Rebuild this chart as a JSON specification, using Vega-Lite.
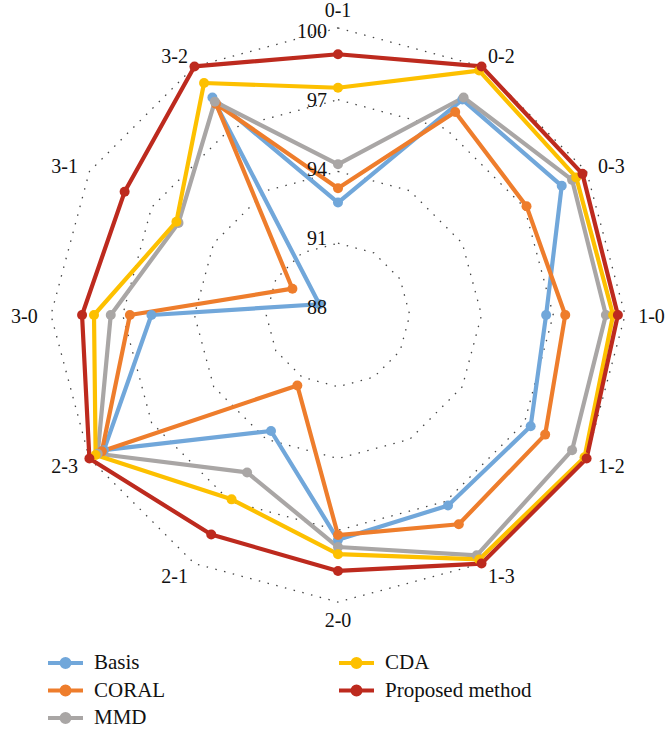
{
  "$schema": "https://vega.github.io/schema/vega-lite/v6.json",
  "width": 666,
  "height": 729,
  "autosize": "none",
  "padding": 0,
  "config": {"view": {"stroke": null}, "font": "Liberation Serif"},
  "datasets": {
    "scores": [
      {"method": "Basis", "pair": "0-1", "acc": 92.7},
      {"method": "Basis", "pair": "0-2", "acc": 98.4},
      {"method": "Basis", "pair": "0-3", "acc": 98.8},
      {"method": "Basis", "pair": "1-0", "acc": 96.7},
      {"method": "Basis", "pair": "1-2", "acc": 97.3},
      {"method": "Basis", "pair": "1-3", "acc": 97.2},
      {"method": "Basis", "pair": "2-0", "acc": 97.4},
      {"method": "Basis", "pair": "2-1", "acc": 93.6},
      {"method": "Basis", "pair": "2-3", "acc": 99.3},
      {"method": "Basis", "pair": "3-0", "acc": 95.8},
      {"method": "Basis", "pair": "3-1", "acc": 88.9},
      {"method": "Basis", "pair": "3-2", "acc": 98.5},
      {"method": "CORAL", "pair": "0-1", "acc": 93.3},
      {"method": "CORAL", "pair": "0-2", "acc": 97.8},
      {"method": "CORAL", "pair": "0-3", "acc": 97.1},
      {"method": "CORAL", "pair": "1-0", "acc": 97.5},
      {"method": "CORAL", "pair": "1-2", "acc": 98.0},
      {"method": "CORAL", "pair": "1-3", "acc": 98.1},
      {"method": "CORAL", "pair": "2-0", "acc": 97.2},
      {"method": "CORAL", "pair": "2-1", "acc": 91.4},
      {"method": "CORAL", "pair": "2-3", "acc": 99.4},
      {"method": "CORAL", "pair": "3-0", "acc": 96.7},
      {"method": "CORAL", "pair": "3-1", "acc": 90.2},
      {"method": "CORAL", "pair": "3-2", "acc": 98.2},
      {"method": "MMD", "pair": "0-1", "acc": 94.3},
      {"method": "MMD", "pair": "0-2", "acc": 98.5},
      {"method": "MMD", "pair": "0-3", "acc": 99.3},
      {"method": "MMD", "pair": "1-0", "acc": 99.2},
      {"method": "MMD", "pair": "1-2", "acc": 99.3},
      {"method": "MMD", "pair": "1-3", "acc": 99.6},
      {"method": "MMD", "pair": "2-0", "acc": 97.7},
      {"method": "MMD", "pair": "2-1", "acc": 95.6},
      {"method": "MMD", "pair": "2-3", "acc": 99.6},
      {"method": "MMD", "pair": "3-0", "acc": 97.5},
      {"method": "MMD", "pair": "3-1", "acc": 95.7},
      {"method": "MMD", "pair": "3-2", "acc": 98.3},
      {"method": "CDA", "pair": "0-1", "acc": 97.5},
      {"method": "CDA", "pair": "0-2", "acc": 99.8},
      {"method": "CDA", "pair": "0-3", "acc": 99.5},
      {"method": "CDA", "pair": "1-0", "acc": 99.5},
      {"method": "CDA", "pair": "1-2", "acc": 99.9},
      {"method": "CDA", "pair": "1-3", "acc": 99.8},
      {"method": "CDA", "pair": "2-0", "acc": 98.0},
      {"method": "CDA", "pair": "2-1", "acc": 96.9},
      {"method": "CDA", "pair": "2-3", "acc": 99.7},
      {"method": "CDA", "pair": "3-0", "acc": 98.2},
      {"method": "CDA", "pair": "3-1", "acc": 95.8},
      {"method": "CDA", "pair": "3-2", "acc": 99.2},
      {"method": "Proposed method", "pair": "0-1", "acc": 98.9},
      {"method": "Proposed method", "pair": "0-2", "acc": 100.0},
      {"method": "Proposed method", "pair": "0-3", "acc": 99.8},
      {"method": "Proposed method", "pair": "1-0", "acc": 99.7},
      {"method": "Proposed method", "pair": "1-2", "acc": 100.0},
      {"method": "Proposed method", "pair": "1-3", "acc": 100.0},
      {"method": "Proposed method", "pair": "2-0", "acc": 98.7},
      {"method": "Proposed method", "pair": "2-1", "acc": 98.6},
      {"method": "Proposed method", "pair": "2-3", "acc": 100.0},
      {"method": "Proposed method", "pair": "3-0", "acc": 98.7},
      {"method": "Proposed method", "pair": "3-1", "acc": 98.3},
      {"method": "Proposed method", "pair": "3-2", "acc": 100.0}
    ],
    "pairs": [
      {"pair": "0-1"}, {"pair": "0-2"}, {"pair": "0-3"}, {"pair": "1-0"},
      {"pair": "1-2"}, {"pair": "1-3"}, {"pair": "2-0"}, {"pair": "2-1"},
      {"pair": "2-3"}, {"pair": "3-0"}, {"pair": "3-1"}, {"pair": "3-2"}
    ],
    "ticks": [{"level": 88}, {"level": 91}, {"level": 94}, {"level": 97}, {"level": 100}]
  },
  "layer": [
    {
      "data": {"name": "pairs"},
      "transform": [
        {"calculate": "[91, 94, 97, 100]", "as": "level"},
        {"flatten": ["level"]},
        {"calculate": "indexof(['0-1','0-2','0-3','1-0','1-2','1-3','2-0','2-1','2-3','3-0','3-1','3-2'], datum.pair)", "as": "idx"},
        {"calculate": "(datum.level - 88) * sin(datum.idx * PI / 6)", "as": "x"},
        {"calculate": "(datum.level - 88) * cos(datum.idx * PI / 6)", "as": "y"}
      ],
      "mark": {"type": "line", "interpolate": "linear-closed", "stroke": "#444", "strokeWidth": 1.3, "strokeDash": [1.5, 7.5]},
      "encoding": {
        "x": {"field": "x", "type": "quantitative", "axis": null, "scale": {"domain": [-14.13, 13.712], "nice": false, "zero": false}},
        "y": {"field": "y", "type": "quantitative", "axis": null, "scale": {"domain": [-17.308, 13.169], "nice": false, "zero": false}},
        "detail": {"field": "level"},
        "order": {"field": "idx"}
      }
    },
    {
      "data": {"name": "scores"},
      "transform": [
        {"calculate": "indexof(['0-1','0-2','0-3','1-0','1-2','1-3','2-0','2-1','2-3','3-0','3-1','3-2'], datum.pair)", "as": "idx"},
        {"calculate": "(datum.acc - 88) * sin(datum.idx * PI / 6)", "as": "x"},
        {"calculate": "(datum.acc - 88) * cos(datum.idx * PI / 6)", "as": "y"}
      ],
      "layer": [
        {
          "mark": {"type": "line", "interpolate": "linear-closed", "strokeWidth": 4.2, "strokeJoin": "round"},
          "encoding": {
            "x": {"field": "x", "type": "quantitative"},
            "y": {"field": "y", "type": "quantitative"},
            "order": {"field": "idx"},
            "color": {
              "field": "method",
              "type": "nominal",
              "scale": {
                "domain": ["Basis", "CORAL", "MMD", "CDA", "Proposed method"],
                "range": ["#71a7da", "#ee7d2c", "#a9a6a5", "#fdc000", "#bd2a1e"]
              },
              "legend": {
                "title": null,
                "orient": "none",
                "legendX": 53.5,
                "legendY": 651,
                "columns": 2,
                "values": ["Basis", "CORAL", "MMD", "CDA", "Proposed method"],
                "symbolType": "M-1.75,0H1.75M-0.4,0A0.4,0.4,0,1,0,0.4,0A0.4,0.4,0,1,0,-0.4,0Z",
                "symbolSize": 400,
                "symbolStrokeWidth": 4,
                "labelFont": "Liberation Serif",
                "labelFontSize": 21,
                "labelColor": "#111",
                "labelOffset": 16.5,
                "labelLimit": 300,
                "columnPadding": 165,
                "rowPadding": 3.5,
                "encode": {
                  "symbols": {
                    "update": {
                      "fill": {"scale": "color", "field": "value"},
                      "stroke": {"scale": "color", "field": "value"},
                      "opacity": {"value": 1}
                    }
                  }
                }
              }
            }
          }
        },
        {
          "mark": {"type": "point", "filled": true, "size": 100, "opacity": 1},
          "encoding": {
            "x": {"field": "x", "type": "quantitative"},
            "y": {"field": "y", "type": "quantitative"},
            "color": {"field": "method", "type": "nominal"}
          }
        }
      ]
    },
    {
      "data": {"name": "ticks"},
      "transform": [
        {"calculate": "0", "as": "x"},
        {"calculate": "0.355 + (datum.level - 88) * 0.9615", "as": "y"}
      ],
      "mark": {"type": "text", "align": "right", "baseline": "alphabetic", "dx": -11, "dy": 7, "font": "Liberation Serif", "fontSize": 20, "color": "#111"},
      "encoding": {
        "x": {"field": "x", "type": "quantitative"},
        "y": {"field": "y", "type": "quantitative"},
        "text": {"field": "level", "type": "quantitative"}
      }
    },
    {
      "data": {"name": "pairs"},
      "transform": [
        {"calculate": "indexof(['0-1','0-2','0-3','1-0','1-2','1-3','2-0','2-1','2-3','3-0','3-1','3-2'], datum.pair)", "as": "idx"},
        {"filter": "datum.idx >= 1 && datum.idx <= 5"},
        {"calculate": "12.55 * sin(datum.idx * PI / 6)", "as": "x"},
        {"calculate": "12.55 * cos(datum.idx * PI / 6)", "as": "y"}
      ],
      "mark": {"type": "text", "align": "left", "baseline": "alphabetic", "dy": 8, "font": "Liberation Serif", "fontSize": 20, "color": "#111"},
      "encoding": {
        "x": {"field": "x", "type": "quantitative"},
        "y": {"field": "y", "type": "quantitative"},
        "text": {"field": "pair"}
      }
    },
    {
      "data": {"name": "pairs"},
      "transform": [
        {"calculate": "indexof(['0-1','0-2','0-3','1-0','1-2','1-3','2-0','2-1','2-3','3-0','3-1','3-2'], datum.pair)", "as": "idx"},
        {"filter": "datum.idx >= 7"},
        {"calculate": "12.55 * sin(datum.idx * PI / 6)", "as": "x"},
        {"calculate": "12.55 * cos(datum.idx * PI / 6)", "as": "y"}
      ],
      "mark": {"type": "text", "align": "right", "baseline": "alphabetic", "dy": 8, "font": "Liberation Serif", "fontSize": 20, "color": "#111"},
      "encoding": {
        "x": {"field": "x", "type": "quantitative"},
        "y": {"field": "y", "type": "quantitative"},
        "text": {"field": "pair"}
      }
    },
    {
      "data": {"name": "pairs"},
      "transform": [
        {"calculate": "indexof(['0-1','0-2','0-3','1-0','1-2','1-3','2-0','2-1','2-3','3-0','3-1','3-2'], datum.pair)", "as": "idx"},
        {"filter": "datum.idx == 0 || datum.idx == 6"},
        {"calculate": "12.75 * sin(datum.idx * PI / 6)", "as": "x"},
        {"calculate": "12.75 * cos(datum.idx * PI / 6)", "as": "y"}
      ],
      "mark": {"type": "text", "align": "center", "baseline": "alphabetic", "dy": 7, "font": "Liberation Serif", "fontSize": 20, "color": "#111"},
      "encoding": {
        "x": {"field": "x", "type": "quantitative"},
        "y": {"field": "y", "type": "quantitative"},
        "text": {"field": "pair"}
      }
    }
  ]
}
